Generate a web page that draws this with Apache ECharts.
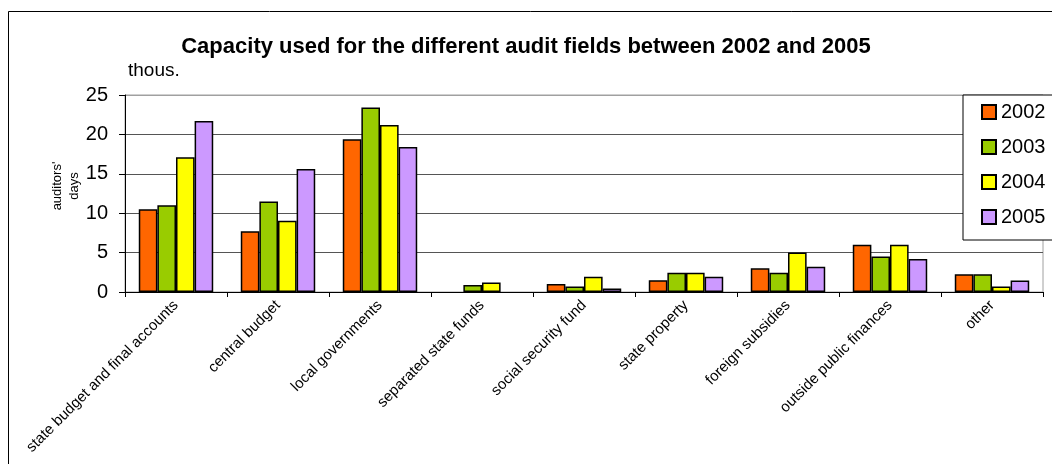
<!DOCTYPE html>
<html>
<head>
<meta charset="utf-8">
<script src="https://cdn.jsdelivr.net/npm/echarts@6/dist/echarts.min.js"></script>
<style>
  html, body { margin: 0; padding: 0; background: #fff; }
  #chart { width: 1052px; height: 464px; }
</style>
</head>
<body>
<div id="chart"></div>
<script>
// Audit fields (categories)
const categories = [
  'state budget and final accounts',
  'central budget',
  'local governments',
  'separated state funds',
  'social security fund',
  'state property',
  'foreign subsidies',
  'outside public finances',
  'other'
];

// Capacity in thousand auditors' days per year
const years = ['2002', '2003', '2004', '2005'];
const values2002 = [10.5, 7.7, 19.4, 0, 1.0, 1.5, 3.0, 6.0, 2.25];
const values2003 = [11.0, 11.5, 23.4, 0.9, 0.7, 2.45, 2.45, 4.5, 2.25];
const values2004 = [17.1, 9.05, 21.2, 1.2, 1.95, 2.45, 5.0, 6.0, 0.7];
const values2005 = [21.7, 15.6, 18.4, 0, 0.45, 1.95, 3.2, 4.2, 1.45];

const yTicks = { min: 0, max: 25, interval: 5 };
const colors = ['#FF6600', '#99CC00', '#FFFF00', '#CC99FF'];
const seriesValues = [values2002, values2003, values2004, values2005];

const FONT = 'Liberation Sans, Arial, sans-serif';

// zero-height bars get no outline so nothing is drawn on the axis
const toBarData = (arr) => arr.map(v => v === 0 ? { value: v, itemStyle: { borderWidth: 0 } } : v);

const chart = echarts.init(document.getElementById('chart'), null, { renderer: 'canvas' });

chart.setOption({
  animation: false,
  backgroundColor: '#fff',
  textStyle: { fontFamily: FONT, color: '#000' },
  title: {
    text: 'Capacity used for the different audit fields between 2002 and 2005',
    left: 'center',
    top: 31,
    textStyle: { fontFamily: FONT, fontSize: 22, fontWeight: 'bold', color: '#000' }
  },
  legend: {
    orient: 'vertical',
    left: 963,
    top: 95,
    itemWidth: 14,
    itemHeight: 14,
    itemGap: 15,
    padding: [7, 30, 13, 18],
    borderColor: '#000',
    borderWidth: 1,
    backgroundColor: '#fff',
    icon: 'rect',
    textStyle: { fontFamily: FONT, fontSize: 20, color: '#000' },
    data: years
  },
  grid: {
    left: 125,
    top: 95,
    right: 9,
    bottom: 172,
    show: true,
    borderColor: '#a0a0a0',
    borderWidth: 1,
    containLabel: false
  },
  xAxis: {
    type: 'category',
    data: categories,
    axisLine: { lineStyle: { color: '#000', width: 1 } },
    axisTick: { show: true, length: 5, interval: 0, lineStyle: { color: '#000' } },
    axisLabel: {
      interval: 0,
      rotate: 45,
      margin: 11,
      fontFamily: FONT,
      fontSize: 15,
      color: '#000'
    },
    splitLine: { show: false }
  },
  yAxis: {
    type: 'value',
    min: yTicks.min,
    max: yTicks.max,
    interval: yTicks.interval,
    axisLine: { show: true, lineStyle: { color: '#000', width: 1 } },
    axisTick: { show: true, length: 6, lineStyle: { color: '#000' } },
    axisLabel: { margin: 17, fontFamily: FONT, fontSize: 20, color: '#000' },
    splitLine: {
      show: true,
      lineStyle: { color: ['#555', '#555', '#555', '#555', '#555', '#a0a0a0'], width: 1 }
    }
  },
  series: years.map((y, i) => ({
    name: y,
    type: 'bar',
    data: toBarData(seriesValues[i]),
    barGap: '0%',
    barCategoryGap: '27%',
    itemStyle: { color: colors[i], borderColor: '#000', borderWidth: 1.5 }
  })),
  graphic: [
    {
      type: 'rect',
      z: -1,
      shape: { x: 8.5, y: 11.5, width: 1100, height: 500 },
      style: { fill: null, stroke: '#000', lineWidth: 1 },
      silent: true
    },
    {
      type: 'text',
      x: 128,
      y: 71,
      style: { text: 'thous.', font: '19px ' + FONT, fill: '#000', textAlign: 'left', textVerticalAlign: 'middle' }
    },
    {
      type: 'text',
      x: 66,
      y: 186,
      rotation: Math.PI / 2,
      style: {
        text: "auditors'\ndays",
        font: '13px ' + FONT,
        fill: '#000',
        textAlign: 'center',
        textVerticalAlign: 'middle',
        lineHeight: 17
      }
    }
  ]
});
</script>
</body>
</html>
